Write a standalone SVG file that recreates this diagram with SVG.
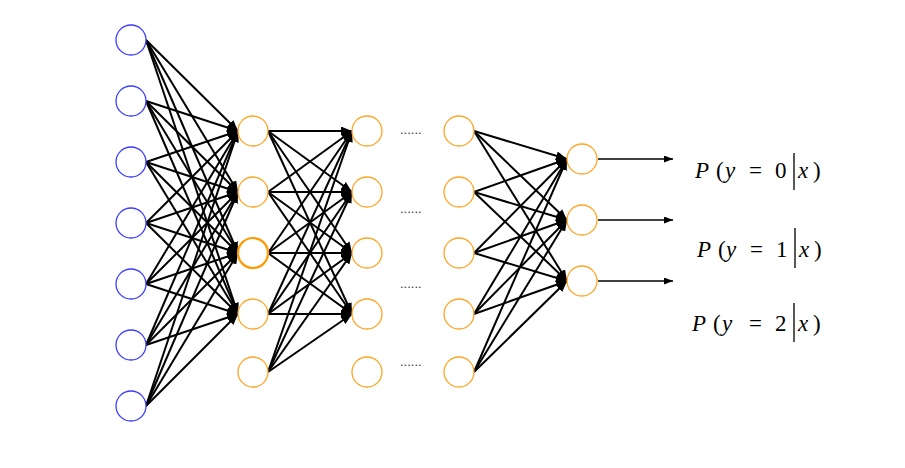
<svg xmlns="http://www.w3.org/2000/svg" width="905" height="468" viewBox="0 0 905 468">
<style>
.in{fill:#fff;stroke:#3c3cff;stroke-width:1.3}
.hid{fill:#fff;stroke:#ffa421;stroke-width:1.3}
.hidb{fill:#fff;stroke:#ff9a00;stroke-width:2.2}
.e{stroke:#000;stroke-width:2;marker-end:url(#ah)}
.o{stroke:#000;stroke-width:1.6;marker-end:url(#ah2)}
.dots{font-family:"Liberation Sans",Arial,sans-serif;font-size:13px;fill:#333}
.lbl{font-family:"Liberation Serif","DejaVu Serif",serif;font-size:23px;fill:#000}
.it{font-style:italic}
.bar{stroke:#111;stroke-width:1.4}
</style>
<defs>
<marker id="ah" markerUnits="userSpaceOnUse" markerWidth="11" markerHeight="9" refX="11" refY="4.5" orient="auto">
<path d="M0,0 L11,4.5 L0,9 z" fill="#000"/>
</marker>
<marker id="ah2" markerUnits="userSpaceOnUse" markerWidth="9" markerHeight="7" refX="9" refY="3.5" orient="auto">
<path d="M0,0 L9,3.5 L0,7 z" fill="#000"/>
</marker>
</defs>
<g id="connectors">
<line class="e" x1="146" y1="40" x2="238" y2="131"/>
<line class="e" x1="146" y1="40" x2="238" y2="192"/>
<line class="e" x1="146" y1="40" x2="238" y2="253"/>
<line class="e" x1="146" y1="40" x2="238" y2="314"/>
<line class="e" x1="146" y1="101" x2="238" y2="131"/>
<line class="e" x1="146" y1="101" x2="238" y2="192"/>
<line class="e" x1="146" y1="101" x2="238" y2="253"/>
<line class="e" x1="146" y1="101" x2="238" y2="314"/>
<line class="e" x1="146" y1="162" x2="238" y2="131"/>
<line class="e" x1="146" y1="162" x2="238" y2="192"/>
<line class="e" x1="146" y1="162" x2="238" y2="253"/>
<line class="e" x1="146" y1="162" x2="238" y2="314"/>
<line class="e" x1="146" y1="223" x2="238" y2="131"/>
<line class="e" x1="146" y1="223" x2="238" y2="192"/>
<line class="e" x1="146" y1="223" x2="238" y2="253"/>
<line class="e" x1="146" y1="223" x2="238" y2="314"/>
<line class="e" x1="146" y1="284" x2="238" y2="131"/>
<line class="e" x1="146" y1="284" x2="238" y2="192"/>
<line class="e" x1="146" y1="284" x2="238" y2="253"/>
<line class="e" x1="146" y1="284" x2="238" y2="314"/>
<line class="e" x1="146" y1="345" x2="238" y2="131"/>
<line class="e" x1="146" y1="345" x2="238" y2="192"/>
<line class="e" x1="146" y1="345" x2="238" y2="253"/>
<line class="e" x1="146" y1="345" x2="238" y2="314"/>
<line class="e" x1="146" y1="406" x2="238" y2="131"/>
<line class="e" x1="146" y1="406" x2="238" y2="192"/>
<line class="e" x1="146" y1="406" x2="238" y2="253"/>
<line class="e" x1="146" y1="406" x2="238" y2="314"/>
<line class="e" x1="268" y1="131" x2="352" y2="131"/>
<line class="e" x1="268" y1="131" x2="352" y2="192"/>
<line class="e" x1="268" y1="131" x2="352" y2="253"/>
<line class="e" x1="268" y1="131" x2="352" y2="314"/>
<line class="e" x1="268" y1="192" x2="352" y2="131"/>
<line class="e" x1="268" y1="192" x2="352" y2="192"/>
<line class="e" x1="268" y1="192" x2="352" y2="253"/>
<line class="e" x1="268" y1="192" x2="352" y2="314"/>
<line class="e" x1="268" y1="253" x2="352" y2="131"/>
<line class="e" x1="268" y1="253" x2="352" y2="192"/>
<line class="e" x1="268" y1="253" x2="352" y2="253"/>
<line class="e" x1="268" y1="253" x2="352" y2="314"/>
<line class="e" x1="268" y1="314" x2="352" y2="131"/>
<line class="e" x1="268" y1="314" x2="352" y2="192"/>
<line class="e" x1="268" y1="314" x2="352" y2="253"/>
<line class="e" x1="268" y1="314" x2="352" y2="314"/>
<line class="e" x1="268" y1="372" x2="352" y2="131"/>
<line class="e" x1="268" y1="372" x2="352" y2="192"/>
<line class="e" x1="268" y1="372" x2="352" y2="253"/>
<line class="e" x1="268" y1="372" x2="352" y2="314"/>
<line class="e" x1="474" y1="131" x2="567" y2="159"/>
<line class="e" x1="474" y1="131" x2="567" y2="220"/>
<line class="e" x1="474" y1="131" x2="567" y2="281"/>
<line class="e" x1="474" y1="192" x2="567" y2="159"/>
<line class="e" x1="474" y1="192" x2="567" y2="220"/>
<line class="e" x1="474" y1="192" x2="567" y2="281"/>
<line class="e" x1="474" y1="253" x2="567" y2="159"/>
<line class="e" x1="474" y1="253" x2="567" y2="220"/>
<line class="e" x1="474" y1="253" x2="567" y2="281"/>
<line class="e" x1="474" y1="314" x2="567" y2="159"/>
<line class="e" x1="474" y1="314" x2="567" y2="220"/>
<line class="e" x1="474" y1="314" x2="567" y2="281"/>
<line class="e" x1="474" y1="372" x2="567" y2="159"/>
<line class="e" x1="474" y1="372" x2="567" y2="220"/>
<line class="e" x1="474" y1="372" x2="567" y2="281"/>
<line class="o" x1="598" y1="159" x2="673" y2="159"/>
<line class="o" x1="598" y1="220" x2="673" y2="220"/>
<line class="o" x1="598" y1="281" x2="673" y2="281"/>
</g>
<g id="input-layer">
<circle id="in1" class="in" cx="131" cy="40" r="15"/>
<circle id="in2" class="in" cx="131" cy="101" r="15"/>
<circle id="in3" class="in" cx="131" cy="162" r="15"/>
<circle id="in4" class="in" cx="131" cy="223" r="15"/>
<circle id="in5" class="in" cx="131" cy="284" r="15"/>
<circle id="in6" class="in" cx="131" cy="345" r="15"/>
<circle id="in7" class="in" cx="131" cy="406" r="15"/>
</g>
<g id="hidden-layer-1">
<circle id="h1n1" class="hid" cx="253" cy="131" r="15"/>
<circle id="h1n2" class="hid" cx="253" cy="192" r="15"/>
<circle id="h1n3" class="hidb" cx="253" cy="253" r="15"/>
<circle id="h1n4" class="hid" cx="253" cy="314" r="15"/>
<circle id="h1n5" class="hid" cx="253" cy="372" r="15"/>
</g>
<g id="hidden-layer-2">
<circle id="h2n1" class="hid" cx="367" cy="131" r="15"/>
<circle id="h2n2" class="hid" cx="367" cy="192" r="15"/>
<circle id="h2n3" class="hid" cx="367" cy="253" r="15"/>
<circle id="h2n4" class="hid" cx="367" cy="314" r="15"/>
<circle id="h2n5" class="hid" cx="367" cy="372" r="15"/>
</g>
<g id="ellipsis">
<text class="dots" x="400" y="134">......</text>
<text class="dots" x="400" y="213">......</text>
<text class="dots" x="400" y="288">......</text>
<text class="dots" x="400" y="366">......</text>
</g>
<g id="hidden-layer-3">
<circle id="h3n1" class="hid" cx="459" cy="131" r="15"/>
<circle id="h3n2" class="hid" cx="459" cy="192" r="15"/>
<circle id="h3n3" class="hid" cx="459" cy="253" r="15"/>
<circle id="h3n4" class="hid" cx="459" cy="314" r="15"/>
<circle id="h3n5" class="hid" cx="459" cy="372" r="15"/>
</g>
<g id="output-layer">
<circle id="out1" class="hid" cx="582" cy="159" r="15"/>
<circle id="out2" class="hid" cx="582" cy="220" r="15"/>
<circle id="out3" class="hid" cx="582" cy="281" r="15"/>
</g>
<g id="label0">
<text class="lbl" y="178"><tspan class="it" x="695">P</tspan><tspan x="716">(</tspan><tspan class="it" x="725">y</tspan><tspan x="749">=</tspan><tspan x="775">0</tspan><tspan class="it" x="798">x</tspan><tspan x="813">)</tspan></text>
<line class="bar" x1="794" y1="153" x2="794" y2="190"/>
</g>
<g id="label1">
<text class="lbl" y="257"><tspan class="it" x="697">P</tspan><tspan x="718">(</tspan><tspan class="it" x="726">y</tspan><tspan x="750">=</tspan><tspan x="776">1</tspan><tspan class="it" x="799">x</tspan><tspan x="814">)</tspan></text>
<line class="bar" x1="795" y1="228" x2="795" y2="268"/>
</g>
<g id="label2">
<text class="lbl" y="331"><tspan class="it" x="692">P</tspan><tspan x="713">(</tspan><tspan class="it" x="722">y</tspan><tspan x="749">=</tspan><tspan x="775">2</tspan><tspan class="it" x="798">x</tspan><tspan x="813">)</tspan></text>
<line class="bar" x1="794" y1="303" x2="794" y2="342"/>
</g>
</svg>
